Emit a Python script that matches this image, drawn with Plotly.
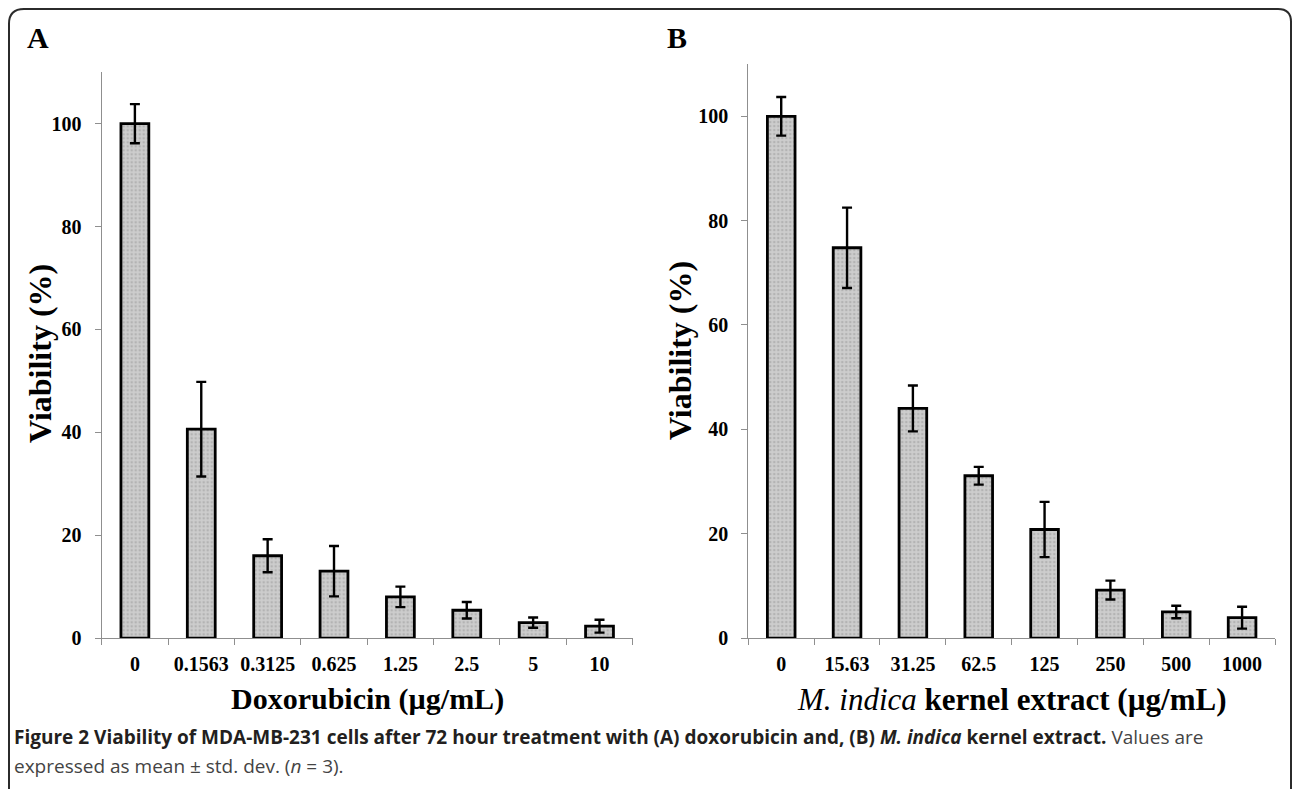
import plotly.graph_objects as go

W, H = 1293, 794

dox_labels = ["0", "0.1563", "0.3125", "0.625", "1.25", "2.5", "5", "10"]
dox_values = [100, 40.6, 16.0, 13.0, 8.0, 5.4, 3.0, 2.3]
dox_errors = [3.8, 9.2, 3.2, 4.9, 2.0, 1.6, 1.0, 1.25]

mi_labels = ["0", "15.63", "31.25", "62.5", "125", "250", "500", "1000"]
mi_values = [100, 74.8, 44.0, 31.1, 20.8, 9.2, 5.0, 3.9]
mi_errors = [3.7, 7.7, 4.4, 1.7, 5.3, 1.8, 1.2, 2.1]

y_ticks = [0, 20, 40, 60, 80, 100]

SERIF = "Liberation Serif, Times New Roman, serif"
SANS = "Open Sans, Noto Sans, sans-serif"


def px(x):
    return x / W


def py(y):
    return 1 - y / H


def bar(labels, values, errors, xa, ya):
    return go.Bar(
        x=labels, y=values, xaxis=xa, yaxis=ya, width=0.42,
        marker=dict(color="#cdcdcd",
                    line=dict(color="#000000", width=2.8),
                    pattern=dict(shape=".", fgcolor="#9a9a9a", size=4,
                                 solidity=0.35, fillmode="overlay")),
        error_y=dict(type="data", array=errors, visible=True,
                     color="#000000", thickness=2.4, width=5),
        showlegend=False, hoverinfo="skip",
    )


fig = go.Figure()
fig.add_trace(bar(dox_labels, dox_values, dox_errors, "x", "y"))
fig.add_trace(bar(mi_labels, mi_values, mi_errors, "x2", "y2"))

tickfont = dict(family=SERIF, size=20, color="#000000", weight="bold")
xcommon = dict(type="category", range=[-0.5, 7.5], showline=True,
               linecolor="#8f8f8f", linewidth=1.2, ticks="outside",
               tickson="boundaries", ticklen=6, tickcolor="#8f8f8f",
               tickwidth=1.2, showgrid=False, zeroline=False,
               tickfont=tickfont, ticklabelstandoff=8, fixedrange=True)
ycommon = dict(range=[0, 110], tickvals=y_ticks, showline=True,
               linecolor="#8f8f8f", linewidth=1.2, ticks="outside",
               ticklen=6, tickcolor="#8f8f8f", tickwidth=1.2,
               showgrid=False, zeroline=False,
               tickfont=tickfont, ticklabelstandoff=9, fixedrange=True)

fig.update_layout(
    width=W, height=H, margin=dict(l=0, r=0, t=0, b=0),
    paper_bgcolor="#ffffff", plot_bgcolor="rgba(0,0,0,0)",
    xaxis=dict(domain=[px(101.7), px(632.7)], anchor="y", **xcommon),
    yaxis=dict(domain=[py(647), py(73.3)], anchor="x", **ycommon),
    xaxis2=dict(domain=[px(748.3), px(1275)], anchor="y2", **xcommon),
    yaxis2=dict(domain=[py(647), py(65)], anchor="x2", **ycommon),
)

ann = []
def text(x, y, t, size, family=SERIF, color="#000000", angle=0, xanchor="center"):
    ann.append(dict(x=px(x), y=py(y), xref="paper", yref="paper", text=t,
                    showarrow=False, textangle=angle, xanchor=xanchor,
                    yanchor="middle", font=dict(family=family, size=size, color=color)))

text(38, 38, "<b>A</b>", 30)
text(677, 38, "<b>B</b>", 30)
text(40, 359, "<b>Viability (%)</b>", 32, angle=-90)
text(680, 356, "<b>Viability (%)</b>", 32, angle=-90)
text(367, 709, "<b>Doxorubicin (µg/mL)</b>", 30)
text(1011, 709, "<i>M. indica</i> <b>kernel extract (µg/mL)</b>", 31)
text(12, 747, "<b>Figure 2 Viability of MDA-MB-231 cells after 72 hour treatment with (A) doxorubicin and, (B) "
     "<i>M. indica</i> kernel extract.</b> <span style='color:#444444'>Values are</span>",
     19, family=SANS, color="#231f20", xanchor="left")
text(12, 777, "expressed as mean ± std. dev. (<i>n</i> = 3).", 19, family=SANS,
     color="#444444", xanchor="left")
fig.update_layout(annotations=ann)

# rounded panel frame
path = (f"M {px(9)},{py(800)} L {px(9)},{py(24)} Q {px(9)},{py(9)} {px(24)},{py(9)} "
        f"L {px(1278)},{py(9)} Q {px(1291)},{py(9)} {px(1291)},{py(22)} L {px(1291)},{py(800)}")
fig.add_shape(type="path", path=path, xref="paper", yref="paper",
              line=dict(color="#2b2b2b", width=2))

fig.write_html("out.html", config={"displayModeBar": False},
               post_script="document.body.style.margin='0';document.body.style.overflow='hidden';")
